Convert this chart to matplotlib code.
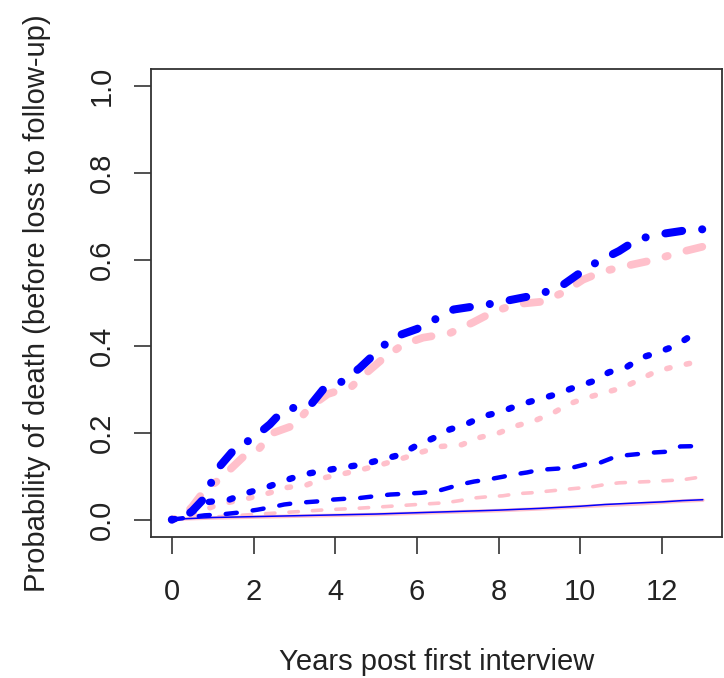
import matplotlib

matplotlib.use("Agg")
import matplotlib.pyplot as plt

plt.rcParams["font.family"] = ["Liberation Sans", "DejaVu Sans"]

BLUE = "#0000ff"
PINK = "#ffc0cb"

# points (years, probability)
top_blue_t = [0.0, 0.3, 0.5, 0.8, 1.1, 1.6, 1.95, 2.4, 2.7, 3.05, 3.4, 3.7, 4.2, 4.6,
              5.05, 5.4, 6.0, 6.5, 6.9, 7.75, 9.0, 9.55, 10.0, 10.4, 10.95, 11.4, 11.9,
              12.75, 13.0]
top_blue_p = [0.0, 0.005, 0.02, 0.05, 0.115, 0.17, 0.185, 0.22, 0.25, 0.26, 0.265, 0.30,
              0.32, 0.35, 0.39, 0.42, 0.44, 0.465, 0.485, 0.497, 0.52, 0.54, 0.57, 0.594,
              0.62, 0.647, 0.658, 0.67, 0.67]

top_pink_t = [0.0, 0.3, 0.5, 0.7, 0.86, 1.25, 1.75, 2.1, 2.47, 3.06, 3.2, 3.38, 3.82, 4.4,
              4.78, 5.2, 5.66, 6.15, 6.8, 7.37, 7.84, 8.4, 9.06, 9.58, 10.07, 10.56, 11.29,
              11.83, 12.44, 13.0]
top_pink_p = [0.0, 0.01, 0.03, 0.055, 0.07, 0.10, 0.145, 0.16, 0.20, 0.22, 0.24, 0.26, 0.29,
              0.307, 0.34, 0.374, 0.404, 0.42, 0.43, 0.455, 0.478, 0.497, 0.503, 0.524,
              0.554, 0.573, 0.589, 0.60, 0.617, 0.63]

dot_blue_t = [0.0, 0.3, 0.5, 0.8, 1.4, 1.85, 2.3, 2.7, 3.2, 3.6, 4.15, 4.65, 5.15, 5.6,
              5.95, 6.4, 6.8, 7.2, 7.6, 8.1, 8.5, 8.95, 9.4, 9.85, 10.3, 10.7, 11.15, 11.5,
              11.9, 12.35, 12.75, 13.0]
dot_blue_p = [0.0, 0.005, 0.018, 0.04, 0.046, 0.062, 0.074, 0.088, 0.104, 0.111, 0.12,
              0.127, 0.139, 0.15, 0.169, 0.188, 0.208, 0.22, 0.238, 0.25, 0.265, 0.277,
              0.289, 0.305, 0.319, 0.34, 0.353, 0.374, 0.386, 0.402, 0.427, 0.43]

dot_pink_t = [0.0, 0.3, 0.6, 1.0, 1.4, 1.9, 2.4, 2.8, 3.3, 3.75, 4.3, 4.75, 5.2, 5.7, 6.15,
              6.6, 7.1, 7.55, 8.0, 8.45, 8.9, 9.35, 9.7, 10.1, 10.6, 11.05, 11.45, 11.85,
              12.3, 12.8, 13.0]
dot_pink_p = [0.0, 0.005, 0.015, 0.03, 0.04, 0.05, 0.062, 0.074, 0.08, 0.097, 0.108, 0.118,
              0.129, 0.143, 0.157, 0.169, 0.173, 0.19, 0.20, 0.217, 0.229, 0.247, 0.266,
              0.28, 0.293, 0.305, 0.323, 0.342, 0.353, 0.363, 0.365]

dash_blue_t = [0.0, 0.4, 0.8, 1.2, 1.6, 2.1, 2.5, 2.75, 3.1, 3.55, 3.9, 4.2, 4.6, 5.05,
               5.35, 5.75, 6.1, 6.5, 6.8, 7.05, 7.4, 7.7, 8.1, 8.35, 8.7, 9.0, 9.8, 10.1,
               10.5, 10.8, 11.05, 11.8, 12.15, 12.45, 13.0]
dash_blue_p = [0.0, 0.005, 0.01, 0.012, 0.016, 0.023, 0.03, 0.035, 0.039, 0.042, 0.046,
               0.048, 0.05, 0.055, 0.058, 0.06, 0.062, 0.066, 0.074, 0.081, 0.088, 0.092,
               0.099, 0.104, 0.109, 0.115, 0.12, 0.127, 0.132, 0.143, 0.148, 0.155, 0.157,
               0.169, 0.17]

dash_pink_t = [0.0, 0.5, 1.0, 1.5, 2.0, 2.5, 3.0, 3.8, 4.5, 5.2, 6.0, 6.7, 7.05, 7.4, 7.75,
               8.1, 8.45, 8.8, 9.55, 10.3, 10.6, 10.95, 11.7, 12.5, 12.85, 13.0]
dash_pink_p = [0.0, 0.003, 0.006, 0.009, 0.012, 0.015, 0.018, 0.023, 0.026, 0.03, 0.035,
               0.039, 0.044, 0.05, 0.053, 0.055, 0.06, 0.062, 0.069, 0.076, 0.081, 0.085,
               0.088, 0.092, 0.097, 0.097]

solid_t = [0.0, 0.3, 1.0, 2.0, 3.0, 4.0, 5.0, 6.0, 7.0, 8.0, 9.0, 10.0, 10.6, 11.5, 12.0,
           12.5, 13.0]
solid_blue_p = [0.0, 0.002, 0.005, 0.007, 0.009, 0.011, 0.013, 0.016, 0.019, 0.022, 0.026,
                0.031, 0.035, 0.039, 0.041, 0.044, 0.046]
solid_pink_p = [0.0, 0.002, 0.004, 0.006, 0.008, 0.010, 0.012, 0.015, 0.018, 0.021, 0.025,
                0.030, 0.033, 0.037, 0.040, 0.043, 0.045]

x_ticks = [0, 2, 4, 6, 8, 10, 12]
y_ticks = [0.0, 0.2, 0.4, 0.6, 0.8, 1.0]

fig = plt.figure(figsize=(7.24, 6.78), dpi=100)
ax = fig.add_axes([151 / 724, 141 / 678, 571 / 724, 468 / 678])


def curve(t, p, color, lw, ls):
    ax.plot(t, p, color=color, lw=lw, linestyle=ls,
            dash_capstyle="round", solid_capstyle="round", solid_joinstyle="round")


# pink group first, blue drawn over it
curve(solid_t, solid_pink_p, PINK, 2.6, "-")
curve(dash_pink_t, dash_pink_p, PINK, 2.6, (0, (2.6, 3.9)))
curve(dot_pink_t, dot_pink_p, PINK, 4.0, (0, (0.6, 3.0)))
curve(top_pink_t, top_pink_p, PINK, 5.6, (0, (0.3, 2.5, 2.1, 2.5)))

curve(solid_t, solid_blue_p, BLUE, 1.1, "-")
curve(dash_blue_t, dash_blue_p, BLUE, 3.2, (0, (2.5, 3.6)))
curve(dot_blue_t, dot_blue_p, BLUE, 4.6, (0, (0.5, 2.8)))
curve(top_blue_t, top_blue_p, BLUE, 5.8, (0, (0.01, 2.5, 2.1, 2.5)))

ax.set_xlim(-0.51, 13.47)
ax.set_ylim(-0.04, 1.04)
ax.set_xticks(x_ticks)
ax.set_xticklabels([str(v) for v in x_ticks])
ax.set_yticks(y_ticks)
ax.set_yticklabels([f"{v:.1f}" for v in y_ticks], rotation=90, va="center")
ax.tick_params(direction="out", length=12.5, width=1.2, labelsize=21,
               color="#333333", labelcolor="#222222")
ax.tick_params(axis="x", pad=17)
ax.tick_params(axis="y", pad=13)
for s in ax.spines.values():
    s.set_linewidth(1.3)
    s.set_color("#333333")

ax.set_xlabel("Years post first interview", fontsize=21, labelpad=30, color="#222222")
ax.set_ylabel("Probability of death (before loss to follow-up)", fontsize=21,
              labelpad=26, color="#222222")

fig.savefig("out.png", dpi=100)
